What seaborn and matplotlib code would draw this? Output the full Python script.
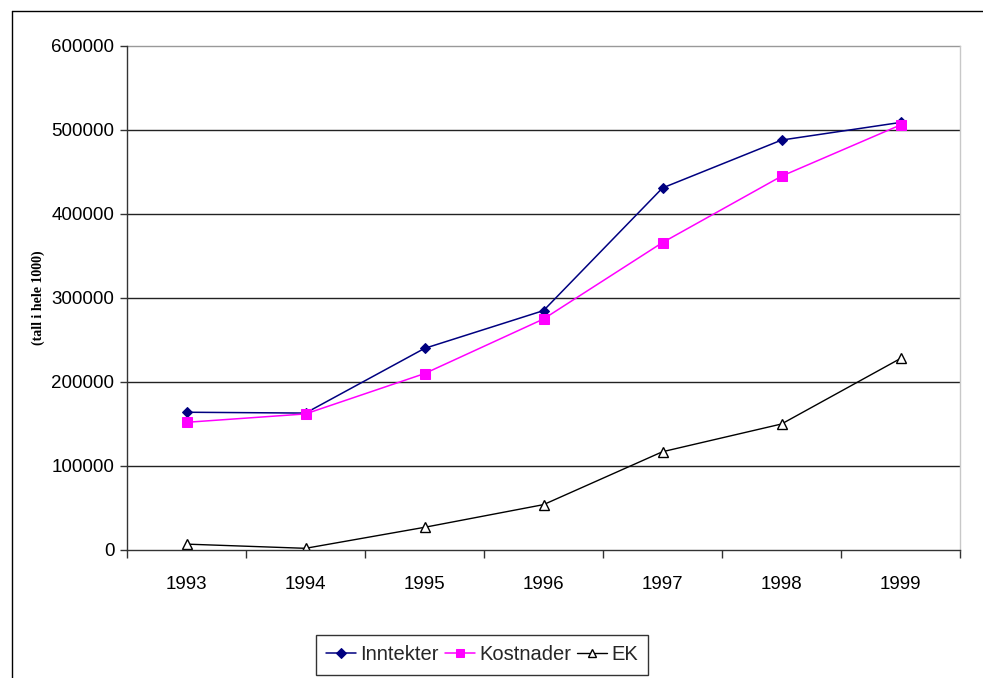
import matplotlib
matplotlib.use("Agg")
import matplotlib.pyplot as plt
from matplotlib.lines import Line2D
from matplotlib.ticker import FixedLocator, NullFormatter
import seaborn as sns
import pandas as pd

years = ["1993", "1994", "1995", "1996", "1997", "1998", "1999"]
inntekter = [164000, 163000, 240000, 285000, 431000, 488000, 509000]
kostnader = [152000, 162000, 210000, 275000, 366000, 445000, 506000]
ek = [7000, 2000, 27000, 54000, 117000, 150000, 228000]

sns.set_theme(style="white")
plt.rcParams["font.family"] = ["Liberation Sans", "DejaVu Sans"]

fig = plt.figure(figsize=(9.83, 6.78), dpi=100)
ax = fig.add_axes([127 / 983, 1 - 550 / 678, (960 - 127) / 983, (550 - 46) / 678])

pos = list(range(len(years)))
df = pd.DataFrame({"pos": pos, "Inntekter": inntekter, "Kostnader": kostnader, "EK": ek})

sns.lineplot(data=df, x="pos", y="Inntekter", ax=ax, color="#000080", lw=1.1,
             marker="D", markersize=5.5, markeredgecolor="#000080", label="Inntekter")
sns.lineplot(data=df, x="pos", y="Kostnader", ax=ax, color="#FF00FF", lw=1.1,
             marker="s", markersize=7, markeredgecolor="#FF00FF", label="Kostnader")
sns.lineplot(data=df, x="pos", y="EK", ax=ax, color="black", lw=1.0,
             marker="^", markersize=7, markerfacecolor="white",
             markeredgecolor="black", markeredgewidth=1.0, label="EK")

ax.set_xlim(-0.5, len(years) - 0.5)
ax.set_ylim(0, 600000)
ax.set_yticks(range(0, 600001, 100000))
ax.set_yticklabels([str(v) for v in range(0, 600001, 100000)], fontsize=13.5, color="black")
ax.set_xticks(pos)
ax.set_xticklabels(years, fontsize=13.5, color="black")
ax.xaxis.set_minor_locator(FixedLocator([p - 0.5 for p in range(len(years) + 1)]))
ax.xaxis.set_minor_formatter(NullFormatter())
ax.tick_params(axis="x", which="major", length=0, pad=19)
ax.tick_params(axis="x", which="minor", length=6, width=1, color="#333333", direction="out", bottom=True)
ax.tick_params(axis="y", length=5, width=1, color="#333333", direction="out", left=True, pad=4)
ax.set_xlabel("")
ax.set_ylabel("(tall i hele 1000)", fontsize=10, fontweight="bold", color="black",
              family=["Liberation Serif", "DejaVu Serif"], labelpad=5)

for v in range(100000, 600000, 100000):
    ax.axhline(v, color="#222222", lw=1.0, zorder=0)
ax.axhline(600000, color="#999999", lw=1.0, zorder=0, clip_on=False)

for side in ["left", "bottom"]:
    ax.spines[side].set_color("#333333")
    ax.spines[side].set_linewidth(1.0)
ax.spines["right"].set_color("#c8c8c8")
ax.spines["right"].set_linewidth(1.0)
ax.spines["top"].set_visible(False)

ax.get_legend().remove()
handles, labels = ax.get_legend_handles_labels()
leg = fig.legend(handles, labels, loc="center", bbox_to_anchor=(482 / 983, 1 - 655 / 678),
                 ncol=3, frameon=True, fancybox=False, fontsize=14.5,
                 handlelength=1.5, handletextpad=0.2, columnspacing=0.3,
                 borderpad=0.5, borderaxespad=0, markerscale=0.85)
leg.get_frame().set_edgecolor("black")
leg.get_frame().set_linewidth(1.0)

# outer chart frame
fig.add_artist(Line2D([12 / 983, 12 / 983], [0, 1 - 11 / 678], color="black", lw=1.0))
fig.add_artist(Line2D([12 / 983, 1], [1 - 11 / 678, 1 - 11 / 678], color="black", lw=1.0))

fig.savefig("out.png", dpi=100)
